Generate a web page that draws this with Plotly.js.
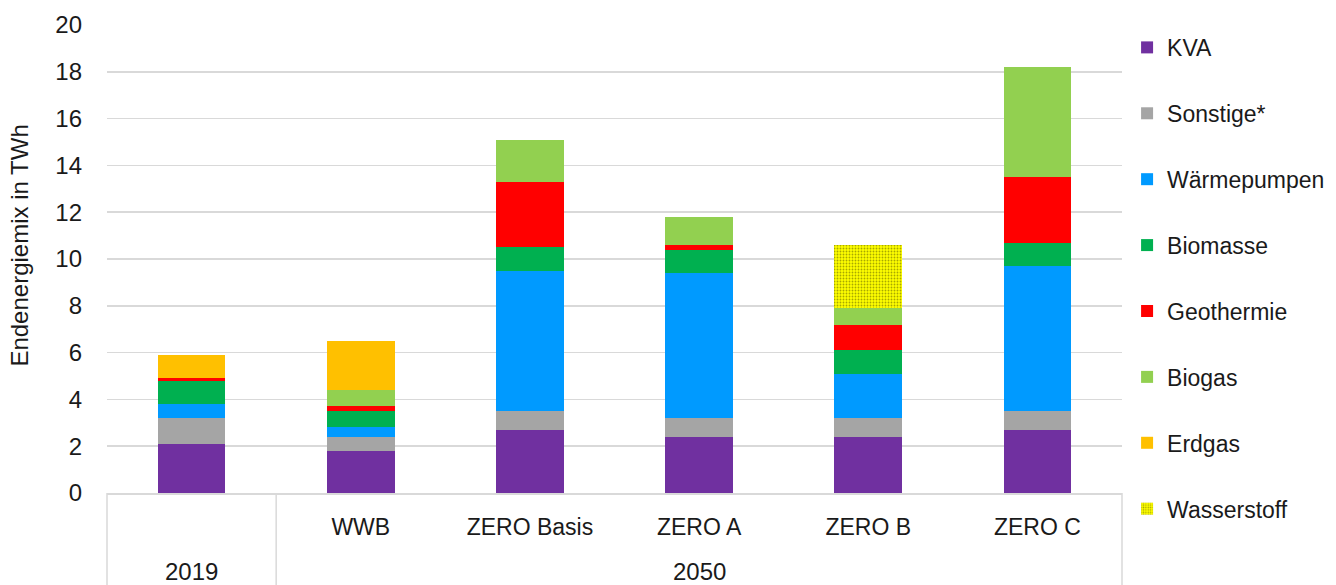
<!DOCTYPE html>
<html>
<head>
<meta charset="utf-8">
<script src="https://cdn.plot.ly/plotly-3.0.1.min.js"></script>
<style>
  html, body { margin: 0; padding: 0; background: #ffffff; }
  #chart { width: 1336px; height: 585px; }
</style>
</head>
<body>
<div id="chart"></div>
<script>
// Categories (inner level) and their tick labels
const categories = ["2019", "WWB", "ZERO Basis", "ZERO A", "ZERO B", "ZERO C"];
const tickLabels = ["", "WWB", "ZERO Basis", "ZERO A", "ZERO B", "ZERO C"];
// Outer group labels and how many categories each group spans
const groupLabels = ["2019", "2050"];
const groupSizes = [1, 5];

// Series values in TWh
const kva          = [2.1, 1.8, 2.7, 2.4, 2.4, 2.7];
const sonstige     = [1.1, 0.6, 0.8, 0.8, 0.8, 0.8];
const waermepumpen = [0.6, 0.4, 6.0, 6.2, 1.9, 6.2];
const biomasse     = [1.0, 0.7, 1.0, 1.0, 1.0, 1.0];
const geothermie   = [0.1, 0.2, 2.8, 0.2, 1.1, 2.8];
const biogas       = [0.0, 0.7, 1.8, 1.2, 0.7, 4.7];
const erdgas       = [1.0, 2.1, 0.0, 0.0, 0.0, 0.0];
const wasserstoff  = [0.0, 0.0, 0.0, 0.0, 2.7, 0.0];

const seriesNames = ["KVA", "Sonstige*", "Wärmepumpen", "Biomasse", "Geothermie", "Biogas", "Erdgas", "Wasserstoff"];
const seriesValues = [kva, sonstige, waermepumpen, biomasse, geothermie, biogas, erdgas, wasserstoff];
const seriesColors = ["#7030A0", "#A5A5A5", "#009AFF", "#00B050", "#FF0000", "#92D050", "#FFC000", "#FFFF00"];

const FONT = "Liberation Sans, Arial, sans-serif";
const TEXT = "#1a1a1a";

const traces = seriesNames.map((name, i) => {
  const marker = { color: seriesColors[i], line: { width: 0 } };
  if (name === "Wasserstoff") {
    marker.pattern = { shape: ".", bgcolor: "#FFFF00", fgcolor: "#A8A800", size: 3, solidity: 0.3 };
  }
  return {
    type: "bar",
    name: name,
    x: categories,
    y: seriesValues[i],
    marker: marker,
    legendgroup: "g" + i,
    hoverinfo: "skip"
  };
});

// Group dividers and group labels (positioned as fractions of the category axis)
const n = categories.length;
const shapes = [];
const annotations = [];
let start = 0;
shapes.push({ type: "line", xref: "paper", yref: "paper", x0: 0, x1: 0, y0: 0, y1: -0.21,
  line: { color: "#D9D9D9", width: 1.5 } });
groupLabels.forEach((lab, gi) => {
  const end = start + groupSizes[gi];
  shapes.push({ type: "line", xref: "paper", yref: "paper", x0: end / n, x1: end / n, y0: 0, y1: -0.21,
    line: { color: "#D9D9D9", width: 1.5 } });
  annotations.push({ text: lab, xref: "paper", yref: "paper", x: (start + end) / 2 / n, y: -0.168,
    showarrow: false, xanchor: "center", yanchor: "middle",
    font: { family: FONT, size: 24, color: TEXT } });
  start = end;
});

// Y axis title
annotations.push({ text: "Endenergiemix in TWh", xref: "paper", yref: "paper",
  x: -0.086, y: 0.528, textangle: -90, showarrow: false, xanchor: "center", yanchor: "middle",
  font: { family: FONT, size: 24, color: TEXT } });

const layout = {
  width: 1336,
  height: 585,
  margin: { l: 107, r: 214, t: 25, b: 92, autoexpand: false },
  paper_bgcolor: "#ffffff",
  plot_bgcolor: "#ffffff",
  barmode: "stack",
  bargap: 0.6,
  font: { family: FONT, size: 24, color: TEXT },
  xaxis: {
    type: "category",
    tickvals: categories,
    ticktext: tickLabels,
    showgrid: false,
    showline: true,
    linecolor: "#D9D9D9",
    linewidth: 1.5,
    ticks: "",
    ticklabelstandoff: 13,
    tickfont: { family: FONT, size: 23, color: TEXT }
  },
  yaxis: {
    range: [0, 20],
    dtick: 2,
    tick0: 0,
    showgrid: true,
    gridcolor: "#D9D9D9",
    gridwidth: 1.5,
    zeroline: false,
    showline: false,
    ticks: "",
    ticklabelstandoff: 24,
    tickfont: { family: FONT, size: 24, color: TEXT }
  },
  legend: {
    x: 1.005,
    xanchor: "left",
    y: 0.998,
    yanchor: "top",
    traceorder: "grouped",
    tracegroupgap: 33,
    maxheight: 585,
    font: { family: FONT, size: 23, color: TEXT },
    bgcolor: "rgba(0,0,0,0)"
  },
  shapes: shapes,
  annotations: annotations,
  showlegend: true
};

Plotly.newPlot("chart", traces, layout, { staticPlot: true, displayModeBar: false });
</script>
</body>
</html>
